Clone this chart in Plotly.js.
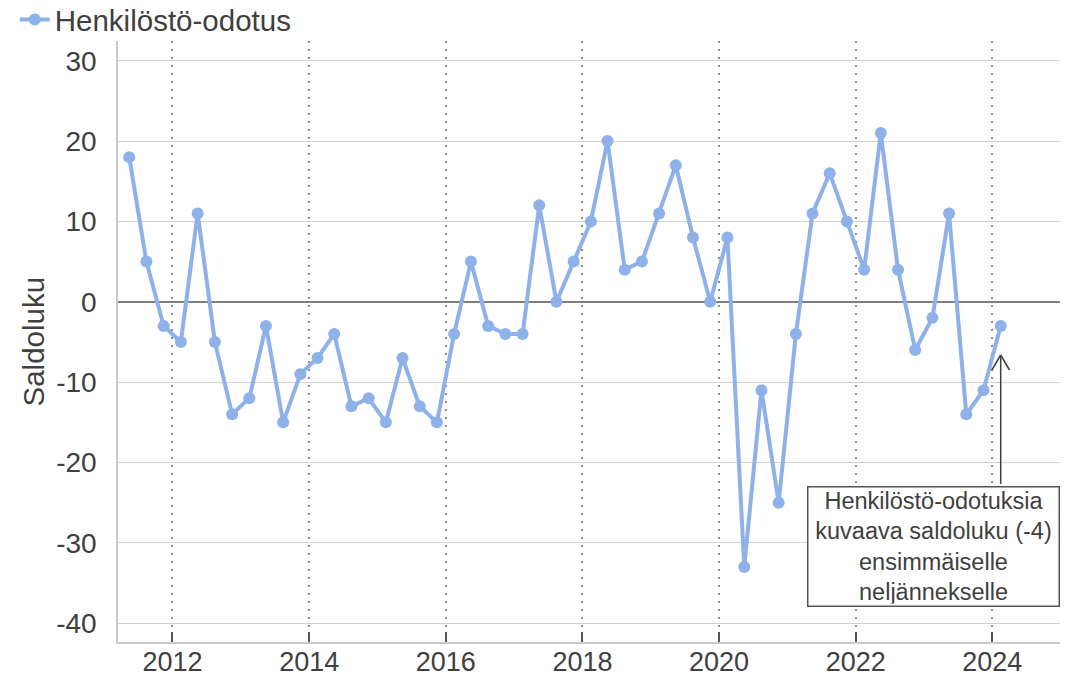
<!DOCTYPE html>
<html>
<head>
<meta charset="utf-8">
<script src="https://cdn.plot.ly/plotly-3.0.1.min.js"></script>
<style>html,body{margin:0;padding:0;background:#fff;}#chart{width:1076px;height:676px;}</style>
</head>
<body>
<div id="chart"></div>
<script>
// Quarterly observations (middle month of each quarter)
const dates = [
  '2011-05-15','2011-08-15','2011-11-15',
  '2012-02-15','2012-05-15','2012-08-15','2012-11-15',
  '2013-02-15','2013-05-15','2013-08-15','2013-11-15',
  '2014-02-15','2014-05-15','2014-08-15','2014-11-15',
  '2015-02-15','2015-05-15','2015-08-15','2015-11-15',
  '2016-02-15','2016-05-15','2016-08-15','2016-11-15',
  '2017-02-15','2017-05-15','2017-08-15','2017-11-15',
  '2018-02-15','2018-05-15','2018-08-15','2018-11-15',
  '2019-02-15','2019-05-15','2019-08-15','2019-11-15',
  '2020-02-15','2020-05-15','2020-08-15','2020-11-15',
  '2021-02-15','2021-05-15','2021-08-15','2021-11-15',
  '2022-02-15','2022-05-15','2022-08-15','2022-11-15',
  '2023-02-15','2023-05-15','2023-08-15','2023-11-15',
  '2024-02-15'
];
const saldoluku = [
  18, 5, -3,
  -5, 11, -5, -14,
  -12, -3, -15, -9,
  -7, -4, -13, -12,
  -15, -7, -13, -15,
  -4, 5, -3, -4,
  -4, 12, 0, 5,
  10, 20, 4, 5,
  11, 17, 8, 0,
  8, -33, -11, -25,
  -4, 11, 16, 10,
  4, 21, 4, -6,
  -2, 11, -14, -11,
  -3
];
const seriesName = 'Henkilöstö-odotus';
const yTitle = 'Saldoluku';
const yTicks = [-40, -30, -20, -10, 0, 10, 20, 30];
const yTickText = ['-40', '-30', '-20', '-10', '0', '10', '20', '30'];
const noteText = 'Henkilöstö-odotuksia<br>kuvaava saldoluku (-4)<br>ensimmäiselle<br>neljännekselle';
const noteDate = dates[dates.length - 1];
const arrowTipY = -6.62;

const lineColor = 'rgb(141,177,232)';
const textColor = '#404040';
const fontFam = '"Liberation Sans", Arial, sans-serif';

const trace = {
  x: dates,
  y: saldoluku,
  type: 'scatter',
  mode: 'lines+markers',
  name: seriesName,
  line: {color: lineColor, width: 4},
  marker: {color: lineColor, size: 12},
  showlegend: true
};

function arrowLine(ax, ay) {
  return {
    xref: 'x', yref: 'y',
    x: noteDate, y: arrowTipY,
    ax: ax, ay: ay,
    text: ' ',
    showarrow: true,
    arrowhead: 0,
    arrowwidth: 1.5,
    arrowcolor: '#404040',
    standoff: 0,
    font: {size: 1}
  };
}

const layout = {
  width: 1076,
  height: 676,
  margin: {l: 118, r: 16, t: 41, b: 34, autoexpand: false},
  paper_bgcolor: '#ffffff',
  plot_bgcolor: '#ffffff',
  font: {family: fontFam, color: textColor, size: 28},
  showlegend: true,
  legend: {
    x: -0.1096, y: 1.0785, xanchor: 'left', yanchor: 'top',
    orientation: 'h',
    font: {size: 29.5, color: textColor},
    bgcolor: 'rgba(0,0,0,0)',
    itemwidth: 30
  },
  xaxis: {
    type: 'date',
    range: ['2011-03-16', '2024-12-28'],
    tick0: '2012-01-01',
    dtick: 'M24',
    tickformat: '%Y',
    showgrid: true,
    gridcolor: '#8c8c8c',
    gridwidth: 2,
    griddash: '2px,6px',
    showline: true,
    linecolor: '#c8c8c8',
    linewidth: 1.5,
    ticks: 'inside',
    ticklen: 10,
    tickwidth: 2,
    tickcolor: '#555555',
    ticklabelstandoff: -5,
    tickfont: {size: 27, color: textColor},
    automargin: false,
    zeroline: false
  },
  yaxis: {
    range: [-42.33, 32.45],
    tickvals: yTicks,
    ticktext: yTickText,
    showgrid: true,
    gridcolor: '#d2d2d2',
    gridwidth: 1.2,
    zeroline: true,
    zerolinecolor: '#7f7f7f',
    zerolinewidth: 2,
    showline: true,
    linecolor: '#c8c8c8',
    linewidth: 1.5,
    ticks: '',
    ticklabelstandoff: 14,
    tickfont: {size: 28, color: textColor},
    automargin: false
  },
  annotations: [
    {
      xref: 'paper', yref: 'paper',
      x: (33 - 118) / 942, y: 0.5,
      xanchor: 'center', yanchor: 'middle',
      text: yTitle,
      textangle: -90,
      showarrow: false,
      font: {size: 29.5, color: textColor, family: fontFam}
    },
    {
      xref: 'paper', yref: 'y',
      x: 1, y: -22.9,
      xanchor: 'right', yanchor: 'top',
      text: noteText,
      showarrow: false,
      align: 'center',
      font: {size: 23.5, color: textColor, family: fontFam},
      bgcolor: '#ffffff',
      bordercolor: '#555555',
      borderwidth: 1.5,
      borderpad: 2,
      width: 246,
      height: 114
    },
    arrowLine(0, 131),
    arrowLine(-10, 17),
    arrowLine(10, 17)
  ]
};

Plotly.newPlot('chart', [trace], layout, {displayModeBar: false, responsive: false});
</script>
</body>
</html>
